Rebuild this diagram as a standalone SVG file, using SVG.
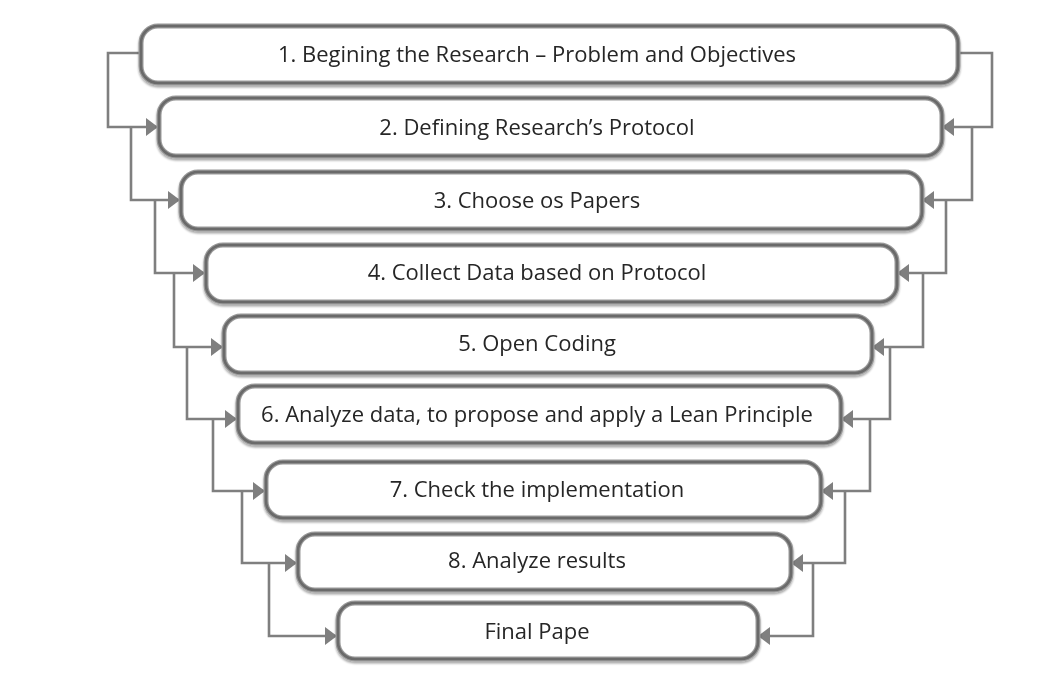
<svg xmlns="http://www.w3.org/2000/svg" width="1052" height="695" viewBox="0 0 1052 695">
<defs>
<marker id="ah" viewBox="0 0 12 18" refX="11" refY="9" markerWidth="12" markerHeight="18" markerUnits="userSpaceOnUse" orient="auto">
<path d="M0,0 L12,9 L0,18 Z" fill="#7f7f7f"/>
</marker>
<filter id="sh" x="-5%" y="-20%" width="110%" height="150%">
<feGaussianBlur in="SourceAlpha" stdDeviation="1.2"/>
<feOffset dx="0" dy="1.5" result="b"/>
<feComponentTransfer><feFuncA type="linear" slope="0.35"/></feComponentTransfer>
<feMerge><feMergeNode/><feMergeNode in="SourceGraphic"/></feMerge>
</filter>
</defs>
<style>
.box{fill:#ffffff;stroke:#9a9a9a;stroke-width:5}
.inner{fill:none;stroke:#6a6a6a;stroke-width:2.6}
.lbl{font-family:"Open Sans","Liberation Sans",sans-serif;font-size:22px;fill:#262626;text-anchor:middle}
.con{fill:none;stroke:#7f7f7f;stroke-width:2.6;marker-end:url(#ah)}
</style>
<rect width="1052" height="695" fill="#ffffff"/>
<g id="connectors">
<path class="con" d="M140,53 H108 V127 H157"/>
<path class="con" d="M958,53 H992 V127 H943"/>
<path class="con" d="M131,127 V200 H179"/>
<path class="con" d="M972,127 V200 H923"/>
<path class="con" d="M155,200 V273 H204"/>
<path class="con" d="M946,200 V273 H898"/>
<path class="con" d="M174,273 V347 H222"/>
<path class="con" d="M923,273 V347 H873"/>
<path class="con" d="M187,347 V419 H236"/>
<path class="con" d="M890,347 V419 H842"/>
<path class="con" d="M213,419 V491 H264"/>
<path class="con" d="M870,419 V491 H822"/>
<path class="con" d="M242,491 V563 H296"/>
<path class="con" d="M845,491 V563 H792"/>
<path class="con" d="M269,563 V636 H336"/>
<path class="con" d="M813,563 V636 H759"/>
</g>
<g id="n1" filter="url(#sh)">
<rect class="box" x="141" y="26" width="817" height="57" rx="17"/>
<rect class="inner" x="141" y="26" width="817" height="57" rx="17"/>
<text class="lbl" x="537" y="62">1. Begining the Research – Problem and Objectives</text>
</g>
<g id="n2" filter="url(#sh)">
<rect class="box" x="159" y="98" width="783" height="58" rx="17"/>
<rect class="inner" x="159" y="98" width="783" height="58" rx="17"/>
<text class="lbl" x="537" y="135">2. Defining Research’s Protocol</text>
</g>
<g id="n3" filter="url(#sh)">
<rect class="box" x="181" y="172" width="741" height="57" rx="17"/>
<rect class="inner" x="181" y="172" width="741" height="57" rx="17"/>
<text class="lbl" x="537" y="208">3. Choose os Papers</text>
</g>
<g id="n4" filter="url(#sh)">
<rect class="box" x="206" y="245" width="691" height="57" rx="17"/>
<rect class="inner" x="206" y="245" width="691" height="57" rx="17"/>
<text class="lbl" x="537" y="280">4. Collect Data based on Protocol</text>
</g>
<g id="n5" filter="url(#sh)">
<rect class="box" x="224" y="316" width="648" height="57" rx="17"/>
<rect class="inner" x="224" y="316" width="648" height="57" rx="17"/>
<text class="lbl" x="537" y="351">5. Open Coding</text>
</g>
<g id="n6" filter="url(#sh)">
<rect class="box" x="238" y="386" width="603" height="57" rx="17"/>
<rect class="inner" x="238" y="386" width="603" height="57" rx="17"/>
<text class="lbl" x="537" y="422">6. Analyze data, to propose and apply a Lean Principle</text>
</g>
<g id="n7" filter="url(#sh)">
<rect class="box" x="266" y="462" width="555" height="56" rx="17"/>
<rect class="inner" x="266" y="462" width="555" height="56" rx="17"/>
<text class="lbl" x="537" y="497">7. Check the implementation</text>
</g>
<g id="n8" filter="url(#sh)">
<rect class="box" x="298" y="534" width="493" height="56" rx="17"/>
<rect class="inner" x="298" y="534" width="493" height="56" rx="17"/>
<text class="lbl" x="537" y="568">8. Analyze results</text>
</g>
<g id="n9" filter="url(#sh)">
<rect class="box" x="338" y="603" width="420" height="56" rx="17"/>
<rect class="inner" x="338" y="603" width="420" height="56" rx="17"/>
<text class="lbl" x="537" y="639">Final Pape</text>
</g>
</svg>
